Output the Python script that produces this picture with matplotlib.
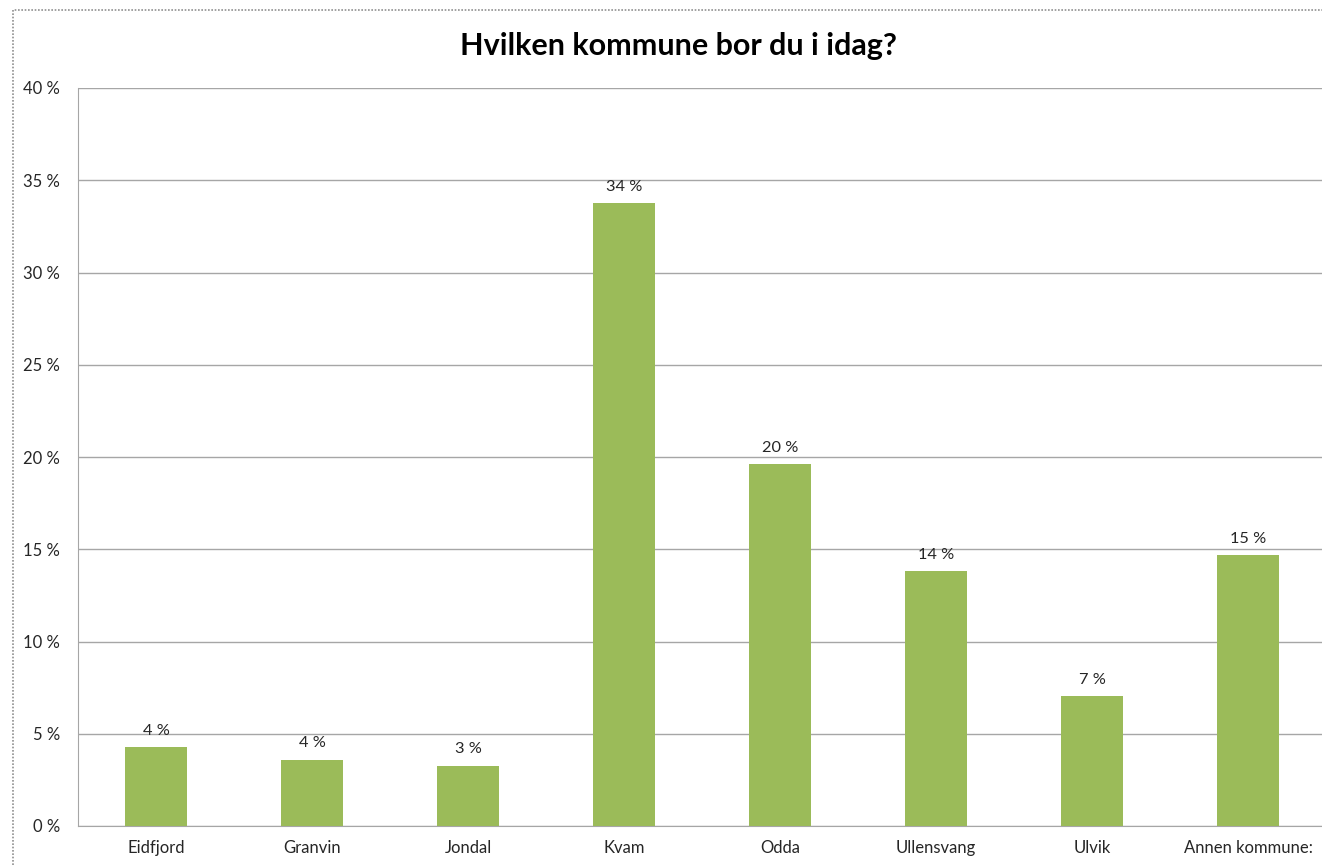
import matplotlib
matplotlib.use("Agg")
import matplotlib.pyplot as plt
from matplotlib.patches import Rectangle
from matplotlib.ticker import FuncFormatter

categories = ["Eidfjord", "Granvin", "Jondal", "Kvam", "Odda", "Ullensvang", "Ulvik", "Annen kommune:"]
values = [4.28, 3.6, 3.27, 33.75, 19.6, 13.8, 7.05, 14.7]
labels = ["4 %", "4 %", "3 %", "34 %", "20 %", "14 %", "7 %", "15 %"]
yticks = [0, 5, 10, 15, 20, 25, 30, 35, 40]

plt.rcParams['font.family'] = ['Lato', 'DejaVu Sans']

W, H = 1322, 866
fig = plt.figure(figsize=(W/100, H/100), dpi=100)
fig.patch.set_facecolor('white')

# chart border (dotted)
fig.patches.append(Rectangle((13/W, -0.1), 1.2, (866-10)/H + 0.1, transform=fig.transFigure,
                             fill=False, edgecolor='#909090', linestyle=(0, (1, 1)), linewidth=1.2))

ax = fig.add_axes([78/W, 40/H, 1248/W, 738/H])
ax.set_xlim(-0.5, 7.5)
ax.set_ylim(0, 40)
x = list(range(len(categories)))
ax.bar(x, values, width=0.40, color='#9BBB59', zorder=3)
for xi, v, l in zip(x, values, labels):
    ax.text(xi, v + 0.5, l, ha='center', va='bottom', fontsize=11.8, color='#262626', zorder=4)

ax.set_yticks(yticks)
ax.yaxis.set_major_formatter(FuncFormatter(lambda v, p: f"{int(v)} %"))
ax.set_xticks(x)
ax.set_xticklabels(categories)
ax.tick_params(axis='both', length=0, labelsize=12, colors='#262626')
ax.tick_params(axis='y', pad=13)
ax.tick_params(axis='x', pad=10)
ax.grid(axis='y', color='#a6a6a6', linewidth=1.0, zorder=0)
for s in ['top', 'right']:
    ax.spines[s].set_visible(False)
ax.spines['left'].set_color('#a6a6a6')
ax.spines['bottom'].set_color('#a6a6a6')

fig.text(678/W, (866-46)/H, "Hvilken kommune bor du i idag?", ha='center', va='center',
         fontsize=22, fontweight='bold', color='black')

fig.savefig("out.png", dpi=100)
